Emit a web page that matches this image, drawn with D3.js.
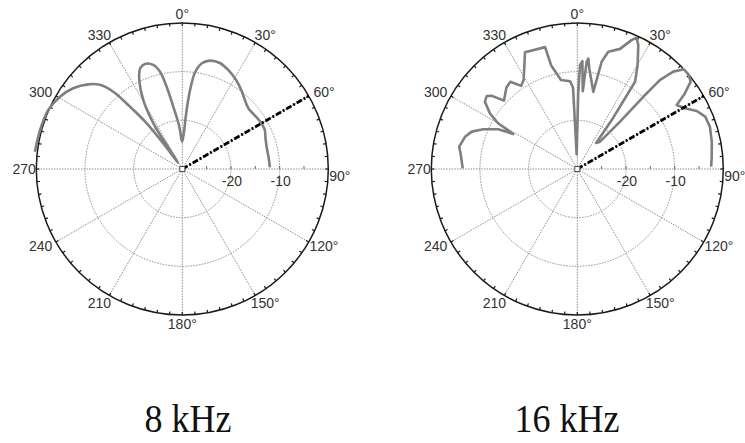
<!DOCTYPE html>
<html>
<head>
<meta charset="utf-8">
<script src="https://cdn.jsdelivr.net/npm/d3@7/dist/d3.min.js"></script>
<style>
  body { margin: 0; background: #fff; }
  svg { display: block; }
</style>
</head>
<body>
<svg id="chart" width="745" height="443"></svg>
<script>
// ---- data -------------------------------------------------------------
const panelTitles = ["8 kHz", "16 kHz"];
const angleTicks = [0, 30, 60, 90, 120, 150, 180, 210, 240, 270, 300, 330];
const angleTickLabels = ["0°", "30°", "60°", "90°", "120°", "150°", "180°", "210", "240", "270", "300", "330"];
const ringLevels = [-20, -10];
const ringLabels = ["-20", "-10"];
const minorLevels = [-25, -15, -5];
const levelDomain = [-30, 0];
const sourceAngle = 60;   // direction of the source (dash-dot ray)

// 8 kHz directivity: angle (deg, clockwise from front) and level (dB)
const angles8k = [276.7, 285.3, 293.8, 300.6, 306.5, 312, 315.6, 318.2, 320, 322.1, 323.5, 325.5,
  327, 327.6, 330.5, 334.2, 337.2, 340.4, 344.4, 347.1, 349.2, 351.8, 356, 359.5,
  2.5, 4, 5.5, 7.5, 10.5, 14.5, 19.5, 25, 31, 37, 43, 48, 53, 58, 64, 70, 76, 83, 89];
const levels8k = [0.5, 0.3, 0.1, -0.8, -2.1, -4.0, -5.8, -8.7, -13.3, -18.1, -23.4, -28.5,
  -25.3, -18.9, -13.7, -9.7, -7.6, -7.1, -7.8, -9.5, -12.8, -17.1, -21.3, -24.4,
  -22.5, -18.5, -14, -10, -7.9, -7.0, -6.9, -7.6, -8.6, -9.8, -11, -11.6, -11.5, -11.3, -11.2, -11.8, -12.1, -12.1, -12.0];

// 16 kHz directivity
const angles16k = [270.3, 277.7, 280.7, 286, 289.5, 292.9, 296.7, 298.7, 300, 302.5, 306.1, 308.9,
  310.6, 313, 319, 322.5, 326, 329, 335.9, 345.2, 345.8, 349.6, 355.3, 357, 357.5,
  0.7, 1.5, 2.7, 4.0, 5.0, 5.7, 6.8, 11.7, 12.8, 14.8, 19.6, 22.9, 24.3, 26.2, 30.1, 33.5, 35, 36,
  39.7, 42.1, 42.4, 42.9, 44.6, 46.9, 49.7, 52.4, 54.9, 57.2, 60.6, 64.1, 67.7, 72.3, 78.5, 85.4, 89];
const levels16k = [-6.45, -5.8, -5.3, -6.0, -7.0, -9.0, -11.8, -15.0, -11.2, -8.7, -6.5, -6.1,
  -6.9, -9.4, -7.8, -7.4, -9.4, -8.6, -3.7, -4.1, -8.0, -11.4, -11.9, -13.3, -27,
  -14.1, -8.6, -7.8, -14, -7.9, -7.2, -9.2, -13.8, -7.4, -5.1, -3.8, -1.2, -0.4, -1.6, -5.3, -8.5, -17, -23.4,
  -22.7, -16.9, -9.9, -5.0, -1.9, 0, 0, -0.6, -3.0, -5.7, -4.6, -2.7, -1.6, -1.4, -1.8, -2.3, -2.5];

// ---- layout -----------------------------------------------------------
const R = 146;
const panels = [
  { cx: 182.3, cy: 169, titleX: 188, angles: angles8k, levels: levels8k, title: panelTitles[0],
    curve: d3.curveCatmullRom.alpha(0.5) },
  { cx: 577.3, cy: 169, titleX: 567, angles: angles16k, levels: levels16k, title: panelTitles[1],
    curve: d3.curveLinear }
];

const svg = d3.select("#chart");
const r = d3.scaleLinear().domain(levelDomain).range([0, R]);
const rad = d => d * Math.PI / 180;
const px = (a, rr) => rr * Math.sin(rad(a));
const py = (a, rr) => -rr * Math.cos(rad(a));

const gridColor = "#8c8c8c";
const textColor = "#333";

panels.forEach(p => {
  const g = svg.append("g").attr("transform", `translate(${p.cx},${p.cy})`);

  // dotted level rings
  g.selectAll("circle.ring").data(ringLevels).join("circle")
    .attr("class", "ring")
    .attr("r", d => r(d))
    .attr("fill", "none")
    .attr("stroke", gridColor)
    .attr("stroke-width", 1)
    .attr("stroke-dasharray", "1.5,1.3");

  // dotted spokes
  g.selectAll("line.spoke").data(angleTicks).join("line")
    .attr("class", "spoke")
    .attr("x1", 0).attr("y1", 0)
    .attr("x2", d => px(d, R)).attr("y2", d => py(d, R))
    .attr("stroke", gridColor)
    .attr("stroke-width", 1)
    .attr("stroke-dasharray", "1.5,1.2");

  // minor level ticks along the 90° axis
  g.selectAll("line.minor").data(minorLevels.concat(ringLevels)).join("line")
    .attr("class", "minor")
    .attr("x1", d => r(d)).attr("x2", d => r(d))
    .attr("y1", 0).attr("y2", -3)
    .attr("stroke", "#666").attr("stroke-width", 1);

  // outer circle with 5° ticks
  g.append("circle")
    .attr("r", R)
    .attr("fill", "none")
    .attr("stroke", "#1a1a1a")
    .attr("stroke-width", 1.5);
  g.selectAll("line.atick").data(d3.range(0, 360, 5)).join("line")
    .attr("class", "atick")
    .attr("x1", d => px(d, R)).attr("y1", d => py(d, R))
    .attr("x2", d => px(d, R - 3)).attr("y2", d => py(d, R - 3))
    .attr("stroke", "#1a1a1a").attr("stroke-width", 1.2);

  // measured response
  const line = d3.lineRadial()
    .angle(d => rad(d[0]))
    .radius(d => r(d[1]))
    .curve(p.curve);
  g.append("path")
    .datum(d3.zip(p.angles, p.levels))
    .attr("d", line)
    .attr("fill", "none")
    .attr("stroke", "#7f7f7f")
    .attr("stroke-width", 2.6)
    .attr("stroke-linejoin", "round");

  // source direction
  g.append("line")
    .attr("x1", 0).attr("y1", 0)
    .attr("x2", px(sourceAngle, r(0))).attr("y2", py(sourceAngle, r(0)))
    .attr("stroke", "#000")
    .attr("stroke-width", 2.6)
    .attr("stroke-dasharray", "6,2,2,2");

  // origin marker
  g.append("rect")
    .attr("x", -2.5).attr("y", -2.5).attr("width", 5).attr("height", 5)
    .attr("fill", "#fff").attr("stroke", "#555").attr("stroke-width", 1);

  // angle labels: the side labels sit against the rim, the rest around it
  g.selectAll("text.alabel").data(angleTicks).join("text")
    .attr("class", "alabel")
    .attr("x", d => {
      if (d === 90) return R + 1;
      if (d === 270) return -R - 0.5;
      const s = Math.sin(rad(d)), c = Math.cos(rad(d));
      return px(d, R * 1.1) + 6 * s * Math.abs(c);
    })
    .attr("y", d => {
      if (d === 90) return 7;
      const c = Math.cos(rad(d));
      return py(d, R * 1.1) + 6 * c;
    })
    .attr("text-anchor", d => d === 90 ? "start" : d === 270 ? "end" : "middle")
    .attr("dominant-baseline", "central")
    .attr("font-family", "'Liberation Sans', Arial, sans-serif")
    .attr("font-size", 14)
    .attr("fill", textColor)
    .text((d, i) => angleTickLabels[i]);

  // level labels
  g.selectAll("text.rlabel").data(ringLevels).join("text")
    .attr("class", "rlabel")
    .attr("x", d => r(d) + 1)
    .attr("y", 12)
    .attr("text-anchor", "middle")
    .attr("dominant-baseline", "central")
    .attr("font-family", "'Liberation Sans', Arial, sans-serif")
    .attr("font-size", 14)
    .attr("fill", textColor)
    .text((d, i) => ringLabels[i]);

  // panel title
  svg.append("text")
    .attr("transform", `translate(${p.titleX},432) scale(1,1.14)`)
    .attr("text-anchor", "middle")
    .attr("font-family", "'Liberation Serif', 'Times New Roman', serif")
    .attr("font-size", 36)
    .attr("fill", "#111")
    .text(p.title);
});
</script>
</body>
</html>
